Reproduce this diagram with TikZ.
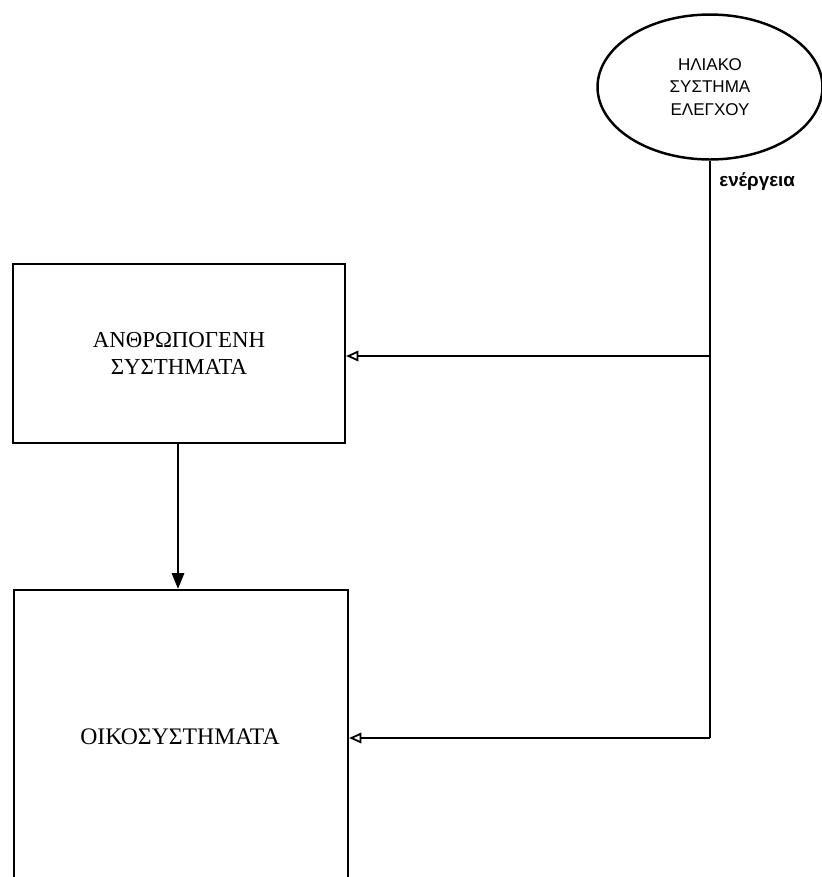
\documentclass[tikz,border=0pt]{standalone}
\usepackage{fontspec}
\setmainfont{Liberation Serif}
\newfontfamily\labelfont{Liberation Sans}
\usetikzlibrary{arrows.meta, shapes.geometric}

\tikzset{
	sysbox/.style={draw, line width=1.3pt, rectangle, align=center, font=\fontsize{13}{15.5}\selectfont},
	sunbox/.style={draw, line width=1.4pt, ellipse, align=center, inner sep=0pt, font=\labelfont\fontsize{9.7}{13}\selectfont},
	flow/.style={line width=1.3pt},
	openhead/.style={flow, -{Triangle[open, length=7pt, width=6pt, line width=1pt]}},
	fullhead/.style={flow, -{Triangle[length=9pt, width=7pt]}}
}

\begin{document}
	\begin{tikzpicture}[x=0.02cm, y=-0.02cm]
		\useasboundingbox (0, 0) rectangle (822, 877);
		\clip (0, 0) rectangle (822, 877);
		%
		\node[sunbox, minimum width=4.5cm, minimum height=2.9cm] (S) at (710, 87) {ΗΛΙΑΚΟ\\ΣΥΣΤΗΜΑ\\ΕΛΕΓΧΟΥ};
		\node[anchor=west, inner sep=0pt, font=\labelfont\bfseries\fontsize{10.7}{12}\selectfont] (E) at (719, 182) {ενέργεια};
		%
		\node[sysbox, minimum width=6.64cm, minimum height=3.58cm] (A) at (179, 353.5) {ΑΝΘΡΩΠΟΓΕΝΗ\\ΣΥΣΤΗΜΑΤΑ};
		\node[sysbox, minimum width=6.68cm, minimum height=7.4cm] (O) at (181, 775) {};
		\node[font=\fontsize{13.5}{15.5}\selectfont] (Ot) at (180, 737) {ΟΙΚΟΣΥΣΤΗΜΑΤΑ}; % Text sits above the box centre
		%
		\coordinate (J1) at (710, 356);
		\coordinate (J2) at (710, 738);
		\coordinate (D) at (178, 0);
		% Drawing the edges
		%% Energy line
		\draw[flow] (S.south) -- (J1) -- (J2);
		\draw[openhead] (J1) -- (A.east |- J1);
		\draw[openhead] (J2) -- (O.east |- J2);
		%% Between the systems
		\draw[fullhead] (A.south -| D) -- (O.north -| D);
	\end{tikzpicture}
\end{document}
